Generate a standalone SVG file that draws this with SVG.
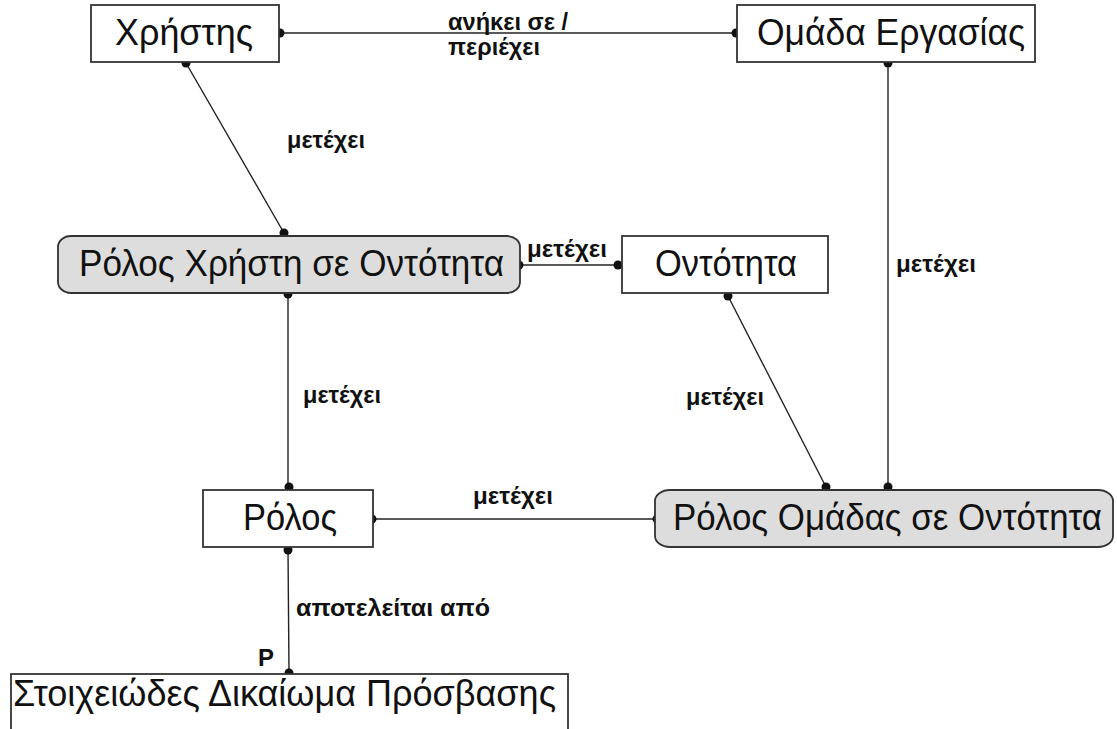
<svg xmlns="http://www.w3.org/2000/svg" width="1117" height="729" viewBox="0 0 1117 729">
<style>
.box{fill:#ffffff;stroke:#333333;stroke-width:1.8}
.rbox{fill:#dddddd;stroke:#333333;stroke-width:1.8}
.nt{font-family:"Liberation Sans",Arial,sans-serif;font-size:36px;fill:#111111;text-anchor:start}
.lbl{font-family:"Liberation Sans",Arial,sans-serif;font-size:24px;font-weight:bold;fill:#111111}
.ln{stroke:#222222;stroke-width:1.4;fill:none}
.dot{fill:#111111}
</style>
<rect width="1117" height="729" fill="#ffffff"/>
<g id="connectors">
<line class="ln" x1="280" y1="33" x2="736" y2="33"/>
<line class="ln" x1="186" y1="63" x2="284" y2="233"/>
<line class="ln" x1="519" y1="265" x2="618" y2="265"/>
<line class="ln" x1="288" y1="294" x2="288" y2="488"/>
<line class="ln" x1="728" y1="296" x2="826" y2="487"/>
<line class="ln" x1="888" y1="63" x2="888" y2="487"/>
<line class="ln" x1="372" y1="519" x2="657" y2="519"/>
<line class="ln" x1="288" y1="549" x2="289" y2="673"/>
<circle class="dot" cx="280" cy="33" r="4.5"/>
<circle class="dot" cx="736" cy="33" r="4.5"/>
<circle class="dot" cx="186" cy="63" r="4.5"/>
<circle class="dot" cx="888" cy="63" r="4.5"/>
<circle class="dot" cx="284" cy="233" r="4.5"/>
<circle class="dot" cx="519" cy="265" r="4.5"/>
<circle class="dot" cx="288" cy="294" r="4.5"/>
<circle class="dot" cx="618" cy="265" r="4.5"/>
<circle class="dot" cx="728" cy="296" r="4.5"/>
<circle class="dot" cx="289" cy="487" r="4.5"/>
<circle class="dot" cx="372" cy="519" r="4.5"/>
<circle class="dot" cx="288" cy="550" r="4.5"/>
<circle class="dot" cx="826" cy="487" r="4.5"/>
<circle class="dot" cx="888" cy="487" r="4.5"/>
<circle class="dot" cx="657" cy="519" r="4.5"/>
<circle class="dot" cx="289" cy="673" r="4.5"/>
<text class="lbl" x="448" y="30" textLength="120" lengthAdjust="spacingAndGlyphs">ανήκει σε /</text>
<text class="lbl" x="448" y="55" textLength="92" lengthAdjust="spacingAndGlyphs">περιέχει</text>
<text class="lbl" x="287" y="148" textLength="78" lengthAdjust="spacingAndGlyphs">μετέχει</text>
<text class="lbl" x="527" y="257" textLength="80" lengthAdjust="spacingAndGlyphs">μετέχει</text>
<text class="lbl" x="303" y="403" textLength="78" lengthAdjust="spacingAndGlyphs">μετέχει</text>
<text class="lbl" x="686" y="405" textLength="78" lengthAdjust="spacingAndGlyphs">μετέχει</text>
<text class="lbl" x="896" y="272" textLength="80" lengthAdjust="spacingAndGlyphs">μετέχει</text>
<text class="lbl" x="473" y="504" textLength="80" lengthAdjust="spacingAndGlyphs">μετέχει</text>
<text class="lbl" x="296" y="616" textLength="194" lengthAdjust="spacingAndGlyphs">αποτελείται από</text>
<text class="lbl" x="258" y="666" textLength="16" lengthAdjust="spacingAndGlyphs">P</text>
</g>
<g id="node-xristis">
<rect class="box" x="91" y="5" width="188" height="57"/>
<text class="nt" x="115" y="45" textLength="138" lengthAdjust="spacingAndGlyphs">Χρήστης</text>
</g>
<g id="node-omada">
<rect class="box" x="737" y="5" width="298" height="57"/>
<text class="nt" x="757" y="45" textLength="268" lengthAdjust="spacingAndGlyphs">Ομάδα Εργασίας</text>
</g>
<g id="node-rolos-xristi">
<rect class="rbox" x="58" y="236" width="462" height="57" rx="13" ry="11"/>
<text class="nt" x="79" y="276" textLength="425" lengthAdjust="spacingAndGlyphs">Ρόλος Χρήστη σε Οντότητα</text>
</g>
<g id="node-ontotita">
<rect class="box" x="622" y="236" width="206" height="57"/>
<text class="nt" x="655" y="276" textLength="142" lengthAdjust="spacingAndGlyphs">Οντότητα</text>
</g>
<g id="node-rolos">
<rect class="box" x="203" y="490" width="170" height="57"/>
<text class="nt" x="243" y="530" textLength="94" lengthAdjust="spacingAndGlyphs">Ρόλος</text>
</g>
<g id="node-rolos-omadas">
<rect class="rbox" x="655" y="490" width="458" height="57" rx="15" ry="11"/>
<text class="nt" x="673" y="530" font-size="34" textLength="429" lengthAdjust="spacingAndGlyphs">Ρόλος Ομάδας σε Οντότητα</text>
</g>
<g id="node-stoixeiodes">
<rect class="box" x="11" y="674" width="557" height="80"/>
<text class="nt" x="13" y="706" textLength="543" lengthAdjust="spacingAndGlyphs">Στοιχειώδες Δικαίωμα Πρόσβασης</text>
</g>
</svg>
